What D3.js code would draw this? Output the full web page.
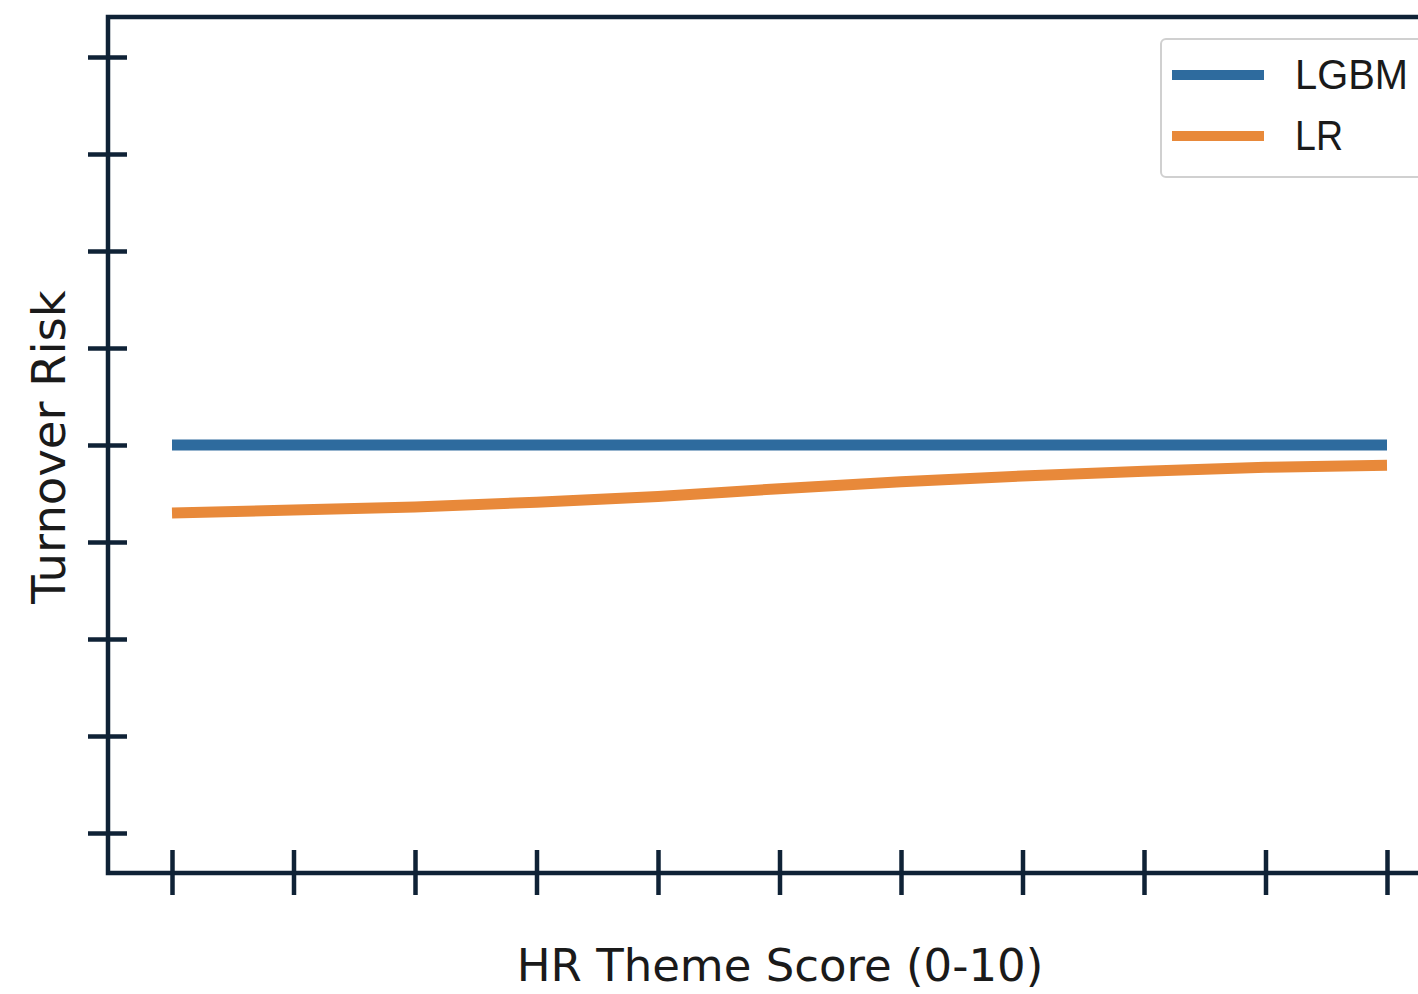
<!DOCTYPE html>
<html>
<head>
<meta charset="utf-8">
<script src="https://cdn.jsdelivr.net/npm/d3@7"></script>
<style>
html,body{margin:0;padding:0;background:#fff;overflow:hidden;}
svg{display:block;}
text{font-family:"DejaVu Sans",sans-serif;fill:#1a1a1a;}
</style>
</head>
<body>
<svg id="chart" width="1418" height="994"></svg>
<script>
const xValues = [0,1,2,3,4,5,6,7,8,9,10];
const lgbmValues = [0.5,0.5,0.5,0.5,0.5,0.5,0.5,0.5,0.5,0.5,0.5];
const lrValues = [0.430,0.433,0.436,0.441,0.447,0.455,0.462,0.468,0.473,0.477,0.479];
const seriesNames = ["LGBM","LR"];
const seriesColors = ["#2e6b9e","#e8893a"];
const xTicks = [0,1,2,3,4,5,6,7,8,9,10];
const yTicks = [0.1,0.2,0.3,0.4,0.5,0.6,0.7,0.8,0.9];
const xLabel = "HR Theme Score (0-10)";
const yLabel = "Turnover Risk";

(function(){
const svg = d3.select("#chart");
const axisColor = "#0f2236";
const fLeft = 108, fTop = 17, fBottom = 873, fRight = 1460;

const x = d3.scaleLinear().domain([0,10]).range([172,1387]);
const y = d3.scaleLinear().domain([0.1,0.9]).range([833,57]);

// frame
svg.append("path")
  .attr("d", `M${fRight},${fTop} H${fLeft} V${fBottom} H${fRight}`)
  .attr("fill","none").attr("stroke",axisColor).attr("stroke-width",4.5);

// y ticks (crossing)
const yAxis = d3.axisLeft(y).tickValues(yTicks).tickSize(20).tickFormat("");
const gy = svg.append("g").attr("transform",`translate(${fLeft},0)`).call(yAxis);
gy.select(".domain").remove();
gy.selectAll(".tick line").attr("x2",-20).attr("x1",19).attr("stroke",axisColor).attr("stroke-width",4.5);

// x ticks (crossing)
const xAxis = d3.axisBottom(x).tickValues(xTicks).tickSize(22).tickFormat("");
const gx = svg.append("g").attr("transform",`translate(0,${fBottom})`).call(xAxis);
gx.select(".domain").remove();
gx.selectAll(".tick line").attr("y1",-23).attr("y2",22).attr("stroke",axisColor).attr("stroke-width",4.5);

// lines
const line = d3.line().x((d,i)=>x(xValues[i])).y(d=>y(d)).curve(d3.curveMonotoneX);
[lgbmValues, lrValues].forEach((vals,k)=>{
  svg.append("path").datum(vals).attr("d",line)
    .attr("fill","none").attr("stroke",seriesColors[k]).attr("stroke-width",11)
    .attr("stroke-linecap","butt");
});

// legend
const lg = svg.append("g");
lg.append("rect").attr("x",1161).attr("y",39).attr("width",300).attr("height",138)
  .attr("rx",5).attr("fill","#fff").attr("stroke","#d0d0d0").attr("stroke-width",2);
const legendLens = [113, 48];
seriesNames.forEach((n,i)=>{
  const cy = 75 + i*61;
  lg.append("line").attr("x1",1172).attr("x2",1264).attr("y1",cy).attr("y2",cy)
    .attr("stroke",seriesColors[i]).attr("stroke-width",10);
  lg.append("text").attr("x",1295).attr("y",cy+14)
    .style("font-family","'Liberation Sans',Arial,sans-serif")
    .attr("font-size",43).attr("textLength",legendLens[i]).attr("lengthAdjust","spacingAndGlyphs").text(n);
});

// axis labels
svg.append("text").attr("x",780).attr("y",981).attr("text-anchor","middle")
  .attr("font-size",45).text(xLabel);
svg.append("text").attr("transform","translate(65,447) rotate(-90)")
  .attr("text-anchor","middle").attr("font-size",46.5).text(yLabel);
})();
</script>
</body>
</html>
